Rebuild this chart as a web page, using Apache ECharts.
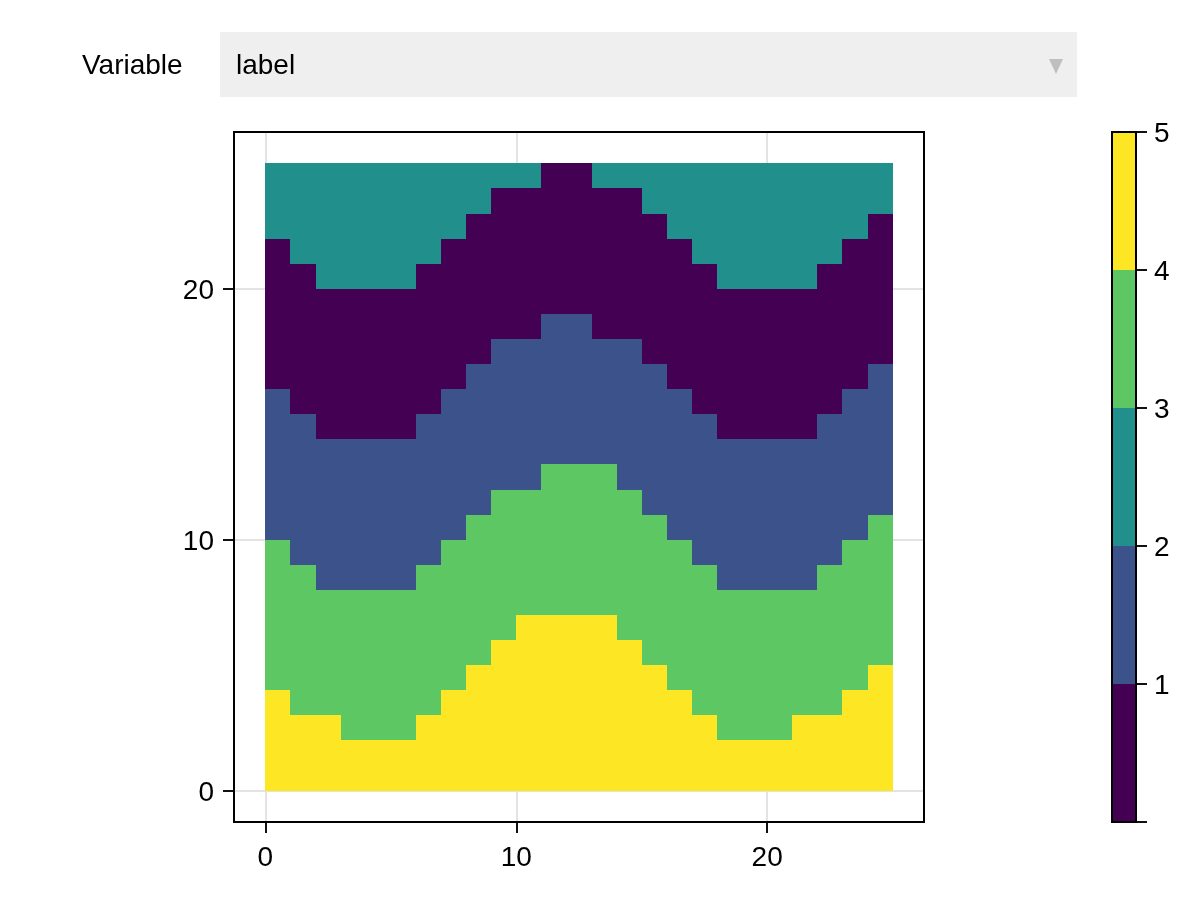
<!DOCTYPE html>
<html>
<head>
<meta charset="utf-8">
<title>label</title>
<script src="https://cdn.jsdelivr.net/npm/echarts@6/dist/echarts.min.js"></script>
<style>
html,body{margin:0;padding:0;background:#fff;}
#chart{width:1200px;height:900px;}
</style>
</head>
<body>
<div id="chart"></div>
<script>
// top edge of each band, one entry per column (0..24)
var yellowTop = [4,3,3,2,2,2,3,4,5,6,7,7,7,7,6,5,4,3,2,2,2,3,3,4,5];
var greenTop  = [10,9,8,8,8,8,9,10,11,12,12,13,13,13,12,11,10,9,8,8,8,8,9,10,11];
var blueTop   = [16,15,14,14,14,14,15,16,17,18,18,19,19,18,18,17,16,15,14,14,14,14,15,16,17];
var purpleTop = [22,21,20,20,20,20,21,22,23,24,24,25,25,24,24,23,22,21,20,20,20,20,21,22,23];
var rowCount = 25;

var bandColors = {1:'#440154',2:'#3B528B',3:'#21908C',4:'#5DC863',5:'#FDE725'};
var colorbarSteps = [1,2,3,4,5];
var xTicks = [0,10,20];
var yTicks = [0,10,20];
var colorbarTicks = [0,1,2,3,4,5];
var colorbarLabels = [1,2,3,4,5];

var fontName = '"Liberation Sans", Arial, sans-serif';
var fontSize = 28;

var cells = [];
for (var c = 0; c < yellowTop.length; c++) {
	for (var r = 0; r < rowCount; r++) {
		var v = 3;
		if (r < yellowTop[c]) v = 5;
		else if (r < greenTop[c]) v = 4;
		else if (r < blueTop[c]) v = 2;
		else if (r < purpleTop[c]) v = 1;
		cells.push([c, r, v]);
	}
}

function cellRect(params, api) {
	var x = api.value(0), y = api.value(1);
	var a = api.coord([x, y + 1]);
	var b = api.coord([x + 1, y]);
	var x0 = Math.round(a[0]), y0 = Math.round(a[1]);
	return {
		type: 'rect',
		shape: {x: x0, y: y0, width: Math.round(b[0]) - x0, height: Math.round(b[1]) - y0},
		style: {fill: bandColors[api.value(2)]}
	};
}

function colorbarRect(params, api) {
	var step = api.value(0);
	var a = api.coord([0, step]);
	var b = api.coord([1, step - 1]);
	return {
		type: 'rect',
		shape: {x: a[0], y: a[1], width: b[0] - a[0], height: b[1] - a[1]},
		style: {fill: bandColors[step]}
	};
}

// labels on the vertical axes sit a little low, like the reference
var lowLabel = {
	formatter: '{d|{value}}',
	rich: {d: {padding: [5, 0, 0, 0], fontSize: fontSize, fontFamily: fontName, color: '#000'}}
};

function plotAxis(ticks, index, labelStyle) {
	return {
		type: 'value',
		gridIndex: index,
		min: -1.25,
		max: 26.25,
		axisLine: {show: false, onZero: false},
		axisTick: {show: true, length: 11, customValues: ticks, lineStyle: {color: '#111', width: 2}},
		axisLabel: Object.assign({customValues: ticks, color: '#000', fontSize: fontSize, fontFamily: fontName}, labelStyle),
		splitLine: {show: true, lineStyle: {color: '#E3E3E3', width: 2}}
	};
}

var myChart = echarts.init(document.getElementById('chart'), null, {renderer: 'canvas'});
var option = {
	animation: false,
	backgroundColor: '#fff',
	grid: [
		{left: 234, top: 132, width: 690, height: 690, show: true, z: 5, backgroundColor: 'transparent', borderColor: '#000', borderWidth: 2},
		{left: 1112, top: 132, width: 24, height: 690, show: true, z: 5, backgroundColor: 'transparent', borderColor: '#000', borderWidth: 2}
	],
	xAxis: [
		plotAxis(xTicks, 0, {margin: 22}),
		{type: 'value', gridIndex: 1, min: 0, max: 1, show: false}
	],
	yAxis: [
		plotAxis(yTicks, 0, Object.assign({margin: 20}, lowLabel)),
		{
			type: 'value', gridIndex: 1, position: 'right', min: 0, max: 5,
			axisLine: {show: false, onZero: false},
			axisTick: {show: true, length: 11, customValues: colorbarTicks, lineStyle: {color: '#111', width: 2}},
			axisLabel: Object.assign({customValues: colorbarLabels, margin: 18, color: '#000', fontSize: fontSize, fontFamily: fontName}, lowLabel),
			splitLine: {show: false}
		}
	],
	series: [
		{type: 'custom', xAxisIndex: 0, yAxisIndex: 0, renderItem: cellRect, data: cells, clip: false, silent: true},
		{type: 'custom', xAxisIndex: 1, yAxisIndex: 1, renderItem: colorbarRect, data: colorbarSteps, clip: false, silent: true}
	],
	graphic: [
		{type: 'rect', left: 220, top: 32, shape: {width: 857, height: 65}, style: {fill: '#EFEFEF'}, silent: true},
		{type: 'text', left: 82, top: 52, style: {text: 'Variable', fill: '#000', font: fontSize + 'px ' + fontName}, silent: true},
		{type: 'text', left: 236, top: 52, style: {text: 'label', fill: '#000', font: fontSize + 'px ' + fontName}, silent: true},
		{type: 'polygon', shape: {points: [[1049,59],[1063,59],[1056,74]]}, style: {fill: '#BFBFBF'}, silent: true}
	]
};
myChart.setOption(option);
</script>
</body>
</html>
